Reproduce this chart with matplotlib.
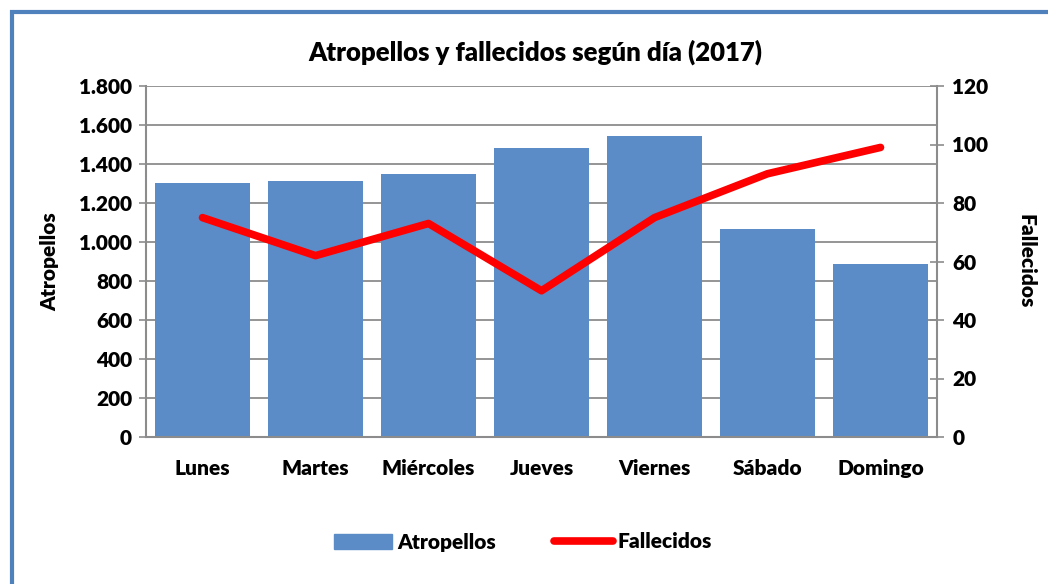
import matplotlib.pyplot as plt
from matplotlib.patches import Rectangle
from matplotlib.lines import Line2D
from matplotlib.ticker import FuncFormatter

# datos
dias = ["Lunes", "Martes", "Miércoles", "Jueves", "Viernes", "Sábado", "Domingo"]
atropellos = [1305, 1312, 1348, 1483, 1543, 1069, 887]
fallecidos = [75, 62, 73, 50, 75, 90, 99]

BAR_COLOR = "#5b8cc8"
LINE_COLOR = "#ff0000"
GRID_COLOR = "#8c8c8c"
FONT = "Lato"
FS = 15

plt.rcParams["font.family"] = [FONT, "DejaVu Sans"]
plt.rcParams["font.weight"] = "heavy"


def miles(v, pos):
    return f"{int(v):,}".replace(",", ".")


def main():
    W, H = 1048, 584
    fig = plt.figure(figsize=(W / 100, H / 100), dpi=100)

    # marco azul exterior
    fig.patches.append(Rectangle((12 / W, -0.1), 1.2, (H - 12) / H + 0.1,
                                 transform=fig.transFigure, fill=False,
                                 edgecolor="#4f81bd", linewidth=3))

    ax = fig.add_axes([146 / W, 1 - 437 / H, (937 - 146) / W, (437 - 86) / H])
    x = list(range(len(dias)))
    ax.bar(x, atropellos, width=0.84, color=BAR_COLOR, zorder=2)
    ax.set_xlim(-0.5, len(dias) - 0.5)
    ax.set_ylim(0, 1800)
    ax.set_yticks(range(0, 1801, 200))
    ax.yaxis.set_major_formatter(FuncFormatter(miles))
    ax.grid(axis="y", color=GRID_COLOR, linewidth=1.3, zorder=0)
    ax.set_axisbelow(True)
    ax.set_xticks(x)
    ax.set_xticklabels(dias)
    ax.tick_params(axis="x", length=0, pad=16, labelsize=FS)
    ax.tick_params(axis="y", length=5, color=GRID_COLOR, width=1.2, pad=5, labelsize=FS)
    for s in ["top", "right"]:
        ax.spines[s].set_visible(False)
    for s in ["left", "bottom"]:
        ax.spines[s].set_color(GRID_COLOR)
        ax.spines[s].set_linewidth(1.5)
    ax.set_ylabel("Atropellos", fontsize=FS, fontweight="heavy", labelpad=14)

    ax2 = ax.twinx()
    ax2.plot(x, fallecidos, color=LINE_COLOR, linewidth=5.5, solid_capstyle="round",
             solid_joinstyle="round", zorder=3)
    ax2.set_ylim(0, 120)
    ax2.set_yticks(range(0, 121, 20))
    ax2.tick_params(axis="y", length=10, direction="inout", color=GRID_COLOR, width=1.2,
                    pad=6, labelsize=FS)
    for s in ["top", "left", "bottom"]:
        ax2.spines[s].set_visible(False)
    ax2.spines["right"].set_color(GRID_COLOR)
    ax2.spines["right"].set_linewidth(1.5)
    ax2.set_ylabel("Fallecidos", fontsize=FS, fontweight="heavy", rotation=-90, labelpad=34)

    fig.text(535 / W, 1 - 52 / H, "Atropellos y fallecidos según día (2017)",
             ha="center", va="center", fontsize=18.5, fontweight="heavy")

    handles = [Rectangle((0, 0), 1, 1, color=BAR_COLOR),
               Line2D([0], [0], color=LINE_COLOR, linewidth=5.5, solid_capstyle="round")]
    fig.legend(handles, ["Atropellos", "Fallecidos"], loc="center",
               bbox_to_anchor=(523 / W, 1 - 542 / H), ncol=2, frameon=False,
               fontsize=FS, handlelength=2.8, handletextpad=0.25, columnspacing=2.8)

    fig.savefig("out.png", dpi=100)


if __name__ == "__main__":
    main()
